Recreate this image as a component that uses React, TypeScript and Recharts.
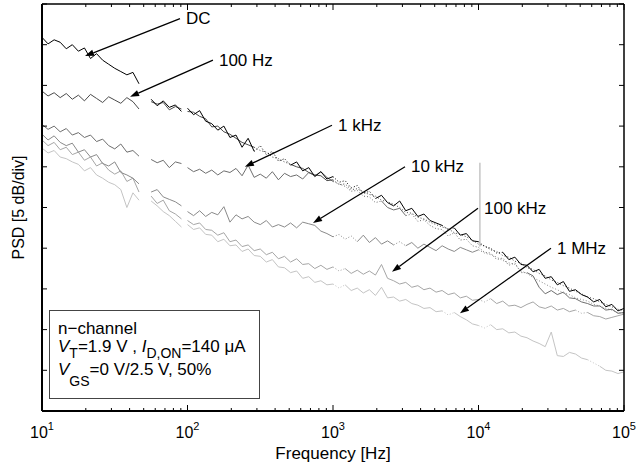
import React from "react";
import { LineChart, Line, XAxis, YAxis, ReferenceLine } from "recharts";

// PSD vs frequency for several switching frequencies (n-channel MOSFET).
const FONT = "'Liberation Sans', Arial, Helvetica, sans-serif";

// measurement grid: 24 points per decade, 10 Hz .. 100 kHz (k = 0..96)
const STEPS = 96;
const PER_DECADE = 24;
const GAP_FREQ = 95; // break between the 2nd and 3rd measurement band

const X_MAJOR = [10, 100, 1000, 10000, 100000];
const X_TICKS = [10, 20, 30, 40, 50, 60, 70, 80, 90, 100, 200, 300, 400, 500, 600, 700, 800, 900,
  1000, 2000, 3000, 4000, 5000, 6000, 7000, 8000, 9000, 10000, 20000, 30000, 40000, 50000,
  60000, 70000, 80000, 90000, 100000];
const Y_TICKS = [0, 5, 10, 15, 20, 25, 30, 35, 40, 45, 50];

// values in dB (5 dB/div), k = 0..96, null = no measurement
const DC = [
  45.9, 45.1, 45.6, 45.3, 44.5, 45.0, 44.2, 44.6, 43.3, 43.9, 43.1, 42.6, 42.1, 41.7, 41.3, 41.6, 40.2,
  null,
  38.3, 37.5, 38.1, 37.3, 37.6, 36.8,
  37.2, 36.4, 36.9, 35.6, 35.3, 34.5, 35.0, 33.6, 33.9, 32.4, 33.5, 31.9,
  32.6, 31.5, 31.9, 30.7, 31.0, 30.2, 30.6, 29.5, 29.9, 28.8, 29.4, 28.5,
  28.8, 28.1, 28.3, 27.4, 27.7, 26.7, 27.0, 26.1, 26.5, 25.6, 25.2, 25.8,
  24.6, 24.9, 23.9, 24.2, 23.4, 23.1, 22.8, 22.3, 22.5, 21.6, 21.8, 20.9,
  20.8, 20.2, 20.0, 19.4, 19.5, 18.6, 18.9, 18.0, 17.9, 17.1, 17.4, 16.3,
  16.5, 15.5, 15.9, 14.7, 14.9, 14.3, 14.0, 13.4, 13.7, 12.8, 13.1, 12.3, 12.6,
];
const HZ100 = [
  39.3, 38.7, 39.1, 38.5, 39.0, 38.3, 38.8, 38.1, 38.9, 38.4, 37.9, 38.6, 38.2, 37.8, 38.5, 38.0, 37.1,
  null,
  38.0, 37.7, 37.9, 37.0, 37.4, 37.1,
  36.8, 36.7, 36.2, 35.9, 34.9, 35.0, 34.3, 34.0, 33.5, 33.0, 32.7, 32.4,
  32.0, 31.8, 31.2, 31.0, 30.6, 30.3, 30.0, 29.8, 29.3, 29.0, 28.9, 28.3,
  28.4, 27.8, 27.9, 27.2, 27.3, 26.9, 26.6, 26.4, 25.9, 25.7, 25.4, 25.0,
  24.4, 24.3, 23.8, 23.6, 23.2, 22.9, 22.6, 22.4, 21.9, 21.7, 21.4, 21.0,
  20.5, 20.3, 19.8, 19.6, 19.1, 18.9, 18.4, 18.2, 17.6, 17.4, 16.9, 16.6,
  16.1, 15.8, 15.4, 15.1, 14.7, 14.4, 14.0, 13.8, 13.4, 13.1, 12.8, 12.5, 12.3,
];
const KHZ1 = [
  35.2, 34.6, 35.0, 34.3, 34.7, 33.9, 34.2, 33.6, 33.9, 33.1, 33.4, 32.6, 32.2, 32.8, 31.8, 32.0, 31.3,
  null,
  30.9, 30.5, 30.8, 29.9, 30.6, 30.4,
  29.9, 29.4, 29.7, 29.2, 29.6, 29.0, 29.5, 29.3, 29.8, 28.9, 30.2, 28.7,
  29.1, 28.6, 29.4, 28.4, 29.2, 28.8, 29.0, 28.5, 29.3, 28.9, 29.4, 28.7,
  28.2, 27.9, 27.6, 27.0, 27.1, 26.4, 26.3, 25.6, 25.8, 25.0, 24.7, 24.9,
  24.0, 24.2, 23.3, 23.5, 22.8, 22.4, 22.3, 21.5, 21.9, 21.0, 21.1, 20.3,
  20.1, 19.5, 19.4, 18.6, 18.8, 17.9, 18.2, 17.0, 17.0, 16.6, 15.2, 14.4,
  14.8, 14.3, 14.6, 13.9, 13.8, 13.4, 13.2, 12.9, 12.9, 12.4, 12.5, 12.0, 12.1,
];
const KHZ10 = [
  34.0, 33.3, 33.8, 33.0, 32.6, 32.9, 31.8, 32.1, 31.2, 31.5, 30.4, 30.1, 30.6, 29.3, 29.0, 28.6, 27.9,
  null,
  26.9, 27.2, 26.3, 26.0, 25.7, 25.2,
  24.5, 24.0, 24.6, 23.9, 24.4, 24.1, 25.1, 23.2, 24.1, 23.6, 23.9, 23.2,
  22.9, 23.4, 22.6, 22.9, 22.6, 23.1, 22.5, 23.2, 23.0, 22.8, 22.1, 21.8,
  21.4, 21.7, 21.1, 21.5, 20.8, 21.6, 20.7, 21.3, 20.5, 20.9, 20.4, 20.8,
  20.3, 20.7, 20.0, 20.5, 20.1, 19.7, 20.3, 19.9, 19.6, 20.1, 19.8, 19.5,
  19.8, 19.4, 19.2, 18.9, 18.5, 18.2, 18.0, 17.2, 16.9, 16.4, 16.0, 15.6,
  15.2, 14.9, 14.5, 14.3, 13.9, 13.7, 13.5, 13.1, 12.9, 12.6, 12.4, 12.1, 12.0,
];
const KHZ100 = [
  33.3, 32.6, 33.0, 32.1, 32.4, 31.5, 31.8, 30.8, 31.2, 30.1, 30.5, 29.6, 29.1, 29.5, 28.2, 28.6, 26.9,
  null,
  26.4, 25.5, 25.9, 24.6, 24.2, 23.6,
  23.4, 22.9, 23.1, 22.3, 22.2, 21.6, 21.9, 20.8, 21.0, 20.2, 20.4, 19.7,
  19.9, 19.2, 19.5, 18.7, 19.0, 18.3, 18.7, 18.0, 18.1, 17.5, 17.9, 17.4,
  17.7, 17.2, 17.5, 16.9, 17.3, 16.8, 17.2, 16.7, 18.0, 16.3, 16.0, 15.6,
  15.8, 15.2, 15.4, 14.9, 15.1, 14.6, 14.8, 14.3, 14.5, 13.9, 14.1, 13.6,
  13.7, 13.4, 13.8, 13.2, 13.5, 12.9, 13.0, 12.7, 13.1, 13.4, 12.8, 12.6,
  12.9, 12.4, 12.6, 12.2, 12.4, 12.0, 12.1, 11.7, 11.6, 11.3, 11.5, 11.7, 11.9,
];
const MHZ1 = [
  32.3, 31.7, 32.0, 31.2, 31.0, 30.6, 30.3, 29.5, 29.9, 29.0, 28.6, 28.1, 27.8, 27.2, 25.0, 26.8, 25.9,
  null,
  25.8, 25.2, 24.5, 24.0, 23.3, 22.6,
  22.9, 22.3, 22.5, 21.7, 21.6, 20.8, 21.1, 20.3, 20.4, 19.6, 19.9, 19.1,
  19.0, 18.3, 18.6, 17.7, 17.6, 17.0, 17.2, 16.3, 16.5, 15.8, 16.0, 15.5,
  15.6, 15.1, 15.5, 14.8, 15.1, 14.5, 14.9, 14.2, 15.2, 13.9, 14.0, 13.5,
  13.7, 13.2, 13.0, 12.6, 12.7, 12.2, 12.3, 11.8, 12.1, 11.6, 11.2, 10.7,
  10.5, 10.2, 10.6, 10.0, 10.1, 9.6, 9.7, 9.2, 9.0, 8.6, 8.3, 7.9,
  9.7, 6.8, 6.7, 7.2, 7.0, 6.5, 6.3, 5.9, 5.5, 5.0, 4.9, 4.6, 4.8,
];

// stretches (k index ranges) that show up as sparse dots in the plot
const DOTS_DC = [[35, 41], [48, 55], [66, 68], [72, 76]];
const DOTS_HZ100 = [[35, 41], [48, 96]];
const DOTS_KHZ1 = [[48, 56], [60, 80]];
const DOTS_KHZ10 = [[48, 52], [58, 60], [72, 96]];
const DOTS_KHZ100 = [[48, 50], [72, 74], [88, 90]];
const DOTS_MHZ1 = [[48, 50], [66, 68], [72, 74], [90, 92]];

// narrow line at the 10 kHz switching frequency
const SPIKE_10K = [{ f: 10230, v: 20.2 }, { f: 10230, v: 30.5 }];

const SERIES = [
  { key: "m1", values: MHZ1, dots: DOTS_MHZ1, color: "#c4c4c4" },
  { key: "k100", values: KHZ100, dots: DOTS_KHZ100, color: "#a6a6a6" },
  { key: "k10", values: KHZ10, dots: DOTS_KHZ10, color: "#8a8a8a" },
  { key: "k1", values: KHZ1, dots: DOTS_KHZ1, color: "#6e6e6e" },
  { key: "h100", values: HZ100, dots: DOTS_HZ100, color: "#4a4a4a" },
  { key: "dc", values: DC, dots: DOTS_DC, color: "#000000" },
];

// arrow annotations: label, text anchor (f, dB) -> tip (f, dB)
const ARROWS = [
  { text: "DC", from: [88.8, 48.2], to: [19.75, 43.6] },
  { text: "100 Hz", from: [149.6, 43.1], to: [40.3, 38.6] },
  { text: "1 kHz", from: [984, 35.1], to: [248, 30.0] },
  { text: "10 kHz", from: [3126, 30.0], to: [729, 23.1] },
  { text: "100 kHz", from: [9922, 24.9], to: [2544, 17.1] },
  { text: "1 MHz", from: [31480, 20.0], to: [7460, 12.0] },
];

const rows: any[] = [];
for (let k = 0; k <= STEPS; k++) {
  const row: any = { f: Math.pow(10, 1 + k / PER_DECADE) };
  for (const s of SERIES) {
    const v = s.values[k];
    const dotted = s.dots.some(([a, b]) => k >= a && k <= b);
    const inside = s.dots.some(([a, b]) => k > a && k < b);
    row[s.key] = inside ? null : v;
    row[s.key + "_d"] = dotted ? v : null;
  }
  rows.push(row);
  if (k === 23) rows.push({ f: GAP_FREQ });
}

const isMajor = (v: number) => X_MAJOR.some((m) => Math.abs(m - v) < 1e-6 * m);

function BottomTick(p: any) {
  const { x, y, payload } = p;
  const major = isMajor(payload.value);
  const exp = Math.round(Math.log10(payload.value));
  return (
    <g>
      <line x1={x} y1={y} x2={x} y2={y - (major ? 6 : 3)} stroke="#000" strokeWidth={1} />
      {major && (
        <text x={x} y={y + 27} textAnchor="middle" fontSize={16} fontFamily={FONT} fill="#000">
          10<tspan dy={-8} fontSize={11}>{exp}</tspan>
        </text>
      )}
    </g>
  );
}

function TopTick(p: any) {
  const { x, y, payload } = p;
  const major = isMajor(payload.value);
  return <line x1={x} y1={y} x2={x} y2={y + (major ? 6 : 3)} stroke="#000" strokeWidth={1} />;
}

const LeftTick = (p: any) => <line x1={p.x} y1={p.y} x2={p.x + 5} y2={p.y} stroke="#000" strokeWidth={1} />;
const RightTick = (p: any) => <line x1={p.x} y1={p.y} x2={p.x - 5} y2={p.y} stroke="#000" strokeWidth={1} />;

function Arrow(p: any) {
  const { x1, y1, x2, y2, text } = p;
  const ang = Math.atan2(y2 - y1, x2 - x1);
  const len = 9, half = 3.2;
  const bx = x2 - len * Math.cos(ang);
  const by = y2 - len * Math.sin(ang);
  const px = -Math.sin(ang) * half;
  const py = Math.cos(ang) * half;
  return (
    <g>
      <line x1={x1} y1={y1} x2={bx} y2={by} stroke="#000" strokeWidth={1.3} />
      <polygon points={`${x2},${y2} ${bx + px},${by + py} ${bx - px},${by - py}`} fill="#000" />
      <text x={x1 + 6} y={y1} dominantBaseline="central" fontSize={17} fontFamily={FONT} fill="#000">
        {text}
      </text>
    </g>
  );
}

function InfoBox() {
  return (
    <svg width={638} height={468} style={{ position: "absolute", left: 0, top: 0, pointerEvents: "none" }}>
      <rect x={49.5} y={310.5} width={210} height={88} fill="#fff" stroke="#444" strokeWidth={1} />
      <g fontFamily={FONT} fontSize={17} fill="#000">
        <text x={58} y={334}>n−channel</text>
        <text x={58} y={352}>
          <tspan fontStyle="italic">V</tspan>
          <tspan dy={6} fontSize={14}>T</tspan>
          <tspan dy={-6}>=1.9 V , </tspan>
          <tspan fontStyle="italic">I</tspan>
          <tspan dy={6} fontSize={14}>D,ON</tspan>
          <tspan dy={-6}>=140 μA</tspan>
        </text>
        <text x={58} y={375}>
          <tspan fontStyle="italic">V</tspan>
          <tspan dy={11} fontSize={14}>GS</tspan>
          <tspan dy={-11}>=0 V/2.5 V, 50%</tspan>
        </text>
      </g>
    </svg>
  );
}

export default function App() {
  return (
    <div style={{ position: "absolute", left: 0, top: 0, width: 638, height: 468, background: "#fff" }}>
      <LineChart width={638} height={468} data={rows} margin={{ top: 3, right: 13, bottom: 0, left: 41 }}>
        <XAxis
          dataKey="f" type="number" scale="log" domain={[10, 100000]} allowDataOverflow
          ticks={X_TICKS} interval={0} height={57} tickSize={0} tickMargin={0} tickLine={false}
          tick={BottomTick} axisLine={{ stroke: "#000", strokeWidth: 2 }}
          label={(lp: any) => {
            const vb = lp.viewBox || { x: 42, y: 411, width: 582 };
            return (
              <text x={vb.x + vb.width / 2} y={vb.y + 48} textAnchor="middle" fontSize={17} fontFamily={FONT} fill="#000">
                Frequency [Hz]
              </text>
            );
          }}
        />
        <XAxis
          xAxisId="top" orientation="top" dataKey="f" type="number" scale="log" domain={[10, 100000]}
          allowDataOverflow ticks={X_TICKS} interval={0} height={1} tickSize={0} tickMargin={0}
          tickLine={false} tick={TopTick} axisLine={{ stroke: "#000", strokeWidth: 1.5 }}
        />
        <YAxis
          type="number" domain={[0, 50]} allowDataOverflow ticks={Y_TICKS} interval={0} width={1}
          tickSize={0} tickMargin={0} tickLine={false} tick={LeftTick}
          axisLine={{ stroke: "#000", strokeWidth: 2 }}
          label={(lp: any) => {
            const vb = lp.viewBox || { x: 41, y: 4, width: 1, height: 407 };
            const cx = vb.x + (vb.width || 0) - 24;
            const cy = vb.y + vb.height / 2;
            return (
              <text transform={`translate(${cx},${cy}) rotate(-90)`} textAnchor="middle" dominantBaseline="central"
                fontSize={16} fontFamily={FONT} fill="#000">
                PSD [5 dB/div]
              </text>
            );
          }}
        />
        <YAxis
          yAxisId="right" orientation="right" type="number" domain={[0, 50]} allowDataOverflow
          ticks={Y_TICKS} interval={0} width={1} tickSize={0} tickMargin={0} tickLine={false}
          tick={RightTick} axisLine={{ stroke: "#000", strokeWidth: 1.5 }}
        />
        {SERIES.flatMap((s) => [
          <Line key={s.key + "_d"} dataKey={s.key + "_d"} type="linear" stroke={s.color} strokeWidth={1}
            strokeDasharray="1 2" dot={false} activeDot={false} isAnimationActive={false} />,
          <Line key={s.key} dataKey={s.key} type="linear" stroke={s.color} strokeWidth={1}
            dot={false} activeDot={false} isAnimationActive={false} />,
        ])}
        <Line data={SPIKE_10K} dataKey="v" xAxisId="top" yAxisId="right" stroke="#a8a8a8" strokeWidth={1}
          dot={false} activeDot={false} isAnimationActive={false} />
        {ARROWS.map((a) => (
          <ReferenceLine
            key={a.text}
            segment={[{ x: a.from[0], y: a.from[1] }, { x: a.to[0], y: a.to[1] }]}
            ifOverflow="visible"
            shape={(lp: any) => <Arrow {...lp} text={a.text} />}
          />
        ))}
      </LineChart>
      <InfoBox />
    </div>
  );
}
